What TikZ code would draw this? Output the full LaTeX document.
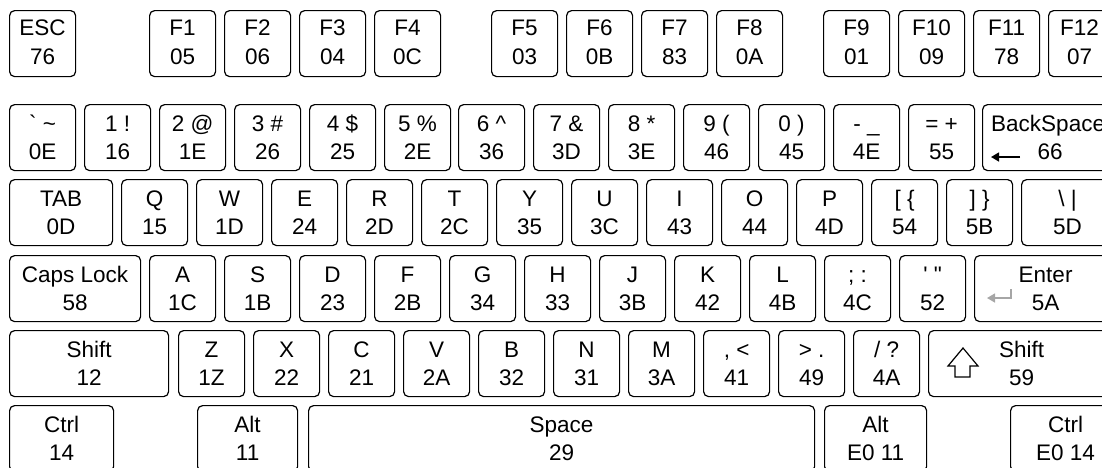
\documentclass[tikz,border=0pt]{standalone}
\usepackage{fontspec}
\setmainfont{Liberation Sans}
\usepackage{tikz}
\usetikzlibrary{calc}
\usetikzlibrary{positioning}
\usetikzlibrary{arrows.meta}
\tikzset{keybox/.style={draw,line width=1.2pt,rounded corners=5pt,inner sep=0pt,
    minimum height=66pt,anchor=north west},
    keytxt/.style={anchor=base,inner sep=0pt,font=\fontsize{22.5}{27}\selectfont},
    keyarrow/.style={line width=1.5pt,-{Triangle[length=8pt,width=9pt]}}}
\def\lineA{27}
\def\lineB{55.5}
\newcommand{\kbkey}[6]{%
  \node[keybox,minimum width=#4pt] (#1) at (#2,#3) {};
  \node[keytxt] (#1-a) at ($(#1.north)+(0,\lineA)$) {#5};
  \node[keytxt] (#1-b) at ($(#1.north)+(0,\lineB)$) {#6};}

\begin{document}
\begin{tikzpicture}[x=1pt,y=1pt,yscale=-1,xscale=1]
\useasboundingbox (0,0) rectangle (1102,467);
\clip (0,0) rectangle (1102,467);

%Row: function keys
\def\lineA{25}\def\lineB{54.5}
\kbkey{esc}{9}{10}{66}{ESC}{76}
\kbkey{f1}{149}{10}{66}{F1}{05}
\kbkey{f2}{224}{10}{66}{F2}{06}
\kbkey{f3}{299}{10}{66}{F3}{04}
\kbkey{f4}{374}{10}{66}{F4}{0C}
\kbkey{f5}{491}{10}{66}{F5}{03}
\kbkey{f6}{566}{10}{66}{F6}{0B}
\kbkey{f7}{641}{10}{66}{F7}{83}
\kbkey{f8}{716}{10}{66}{F8}{0A}
\kbkey{f9}{823}{10}{66}{F9}{01}
\kbkey{f10}{898}{10}{66}{F10}{09}
\kbkey{f11}{973}{10}{66}{F11}{78}
\kbkey{f12}{1048}{10}{62}{F12}{07}

%Row: digits
\def\lineA{27}\def\lineB{55.5}
\kbkey{grave}{9}{104}{66}{\textasciigrave\ \textasciitilde}{0E}
\kbkey{n1}{84}{104}{66}{1 !}{16}
\kbkey{n2}{159}{104}{66}{2 @}{1E}
\kbkey{n3}{234}{104}{66}{3 \#}{26}
\kbkey{n4}{309}{104}{66}{4 \$}{25}
\kbkey{n5}{384}{104}{66}{5 \%}{2E}
\kbkey{n6}{458}{104}{66}{6 \textasciicircum}{36}
\kbkey{n7}{533}{104}{66}{7 \&}{3D}
\kbkey{n8}{608}{104}{66}{8 *}{3E}
\kbkey{n9}{683}{104}{66}{9 (}{46}
\kbkey{n0}{758}{104}{66}{0 )}{45}
\kbkey{minus}{833}{104}{66}{- \_}{4E}
\kbkey{equal}{908}{104}{66}{= +}{55}
%Shape: BackSpace
\node[keybox,minimum width=140pt] (bksp) at (982,104) {};
\node[keytxt,anchor=base west] (bksp-a) at ($(bksp.north west)+(9,\lineA)$) {BackSpace};
\node[keytxt] (bksp-b) at ($(bksp.north west)+(68,\lineB)$) {66};
\coordinate (bksp-r) at ($(bksp.north west)+(38,53)$);
\coordinate (bksp-l) at ($(bksp.north west)+(9,53)$);
\draw[keyarrow] (bksp-r) -- (bksp-l);

%Row: QWERTY
\kbkey{tab}{9}{179}{103}{TAB}{0D}
\kbkey{q}{121}{179}{66}{Q}{15}
\kbkey{w}{196}{179}{66}{W}{1D}
\kbkey{e}{271}{179}{66}{E}{24}
\kbkey{r}{346}{179}{66}{R}{2D}
\kbkey{t}{421}{179}{66}{T}{2C}
\kbkey{y}{496}{179}{66}{Y}{35}
\kbkey{u}{571}{179}{66}{U}{3C}
\kbkey{i}{646}{179}{66}{I}{43}
\kbkey{o}{721}{179}{66}{O}{44}
\kbkey{p}{796}{179}{66}{P}{4D}
\kbkey{lbrack}{871}{179}{66}{[ \{}{54}
\kbkey{rbrack}{946}{179}{66}{] \}}{5B}
\kbkey{bslash}{1021}{179}{92}{\textbackslash\ |}{5D}

%Row: home
\kbkey{caps}{9}{255}{131}{Caps Lock}{58}
\kbkey{a}{149}{255}{66}{A}{1C}
\kbkey{s}{224}{255}{66}{S}{1B}
\kbkey{d}{299}{255}{66}{D}{23}
\kbkey{f}{374}{255}{66}{F}{2B}
\kbkey{g}{449}{255}{66}{G}{34}
\kbkey{h}{524}{255}{66}{H}{33}
\kbkey{j}{599}{255}{66}{J}{3B}
\kbkey{k}{674}{255}{66}{K}{42}
\kbkey{l}{749}{255}{66}{L}{4B}
\kbkey{semi}{824}{255}{66}{; :}{4C}
\kbkey{quote}{899}{255}{66}{\textquotesingle\ \textquotedbl}{52}
\kbkey{enter}{974}{255}{142}{Enter}{5A}
%Return sign
\coordinate (enter-t) at ($(enter.north west)+(37,34)$);
\coordinate (enter-c) at ($(enter.north west)+(37,43)$);
\coordinate (enter-l) at ($(enter.north west)+(13,43)$);
\draw[keyarrow,color=black!35,line width=1.4pt] (enter-t) -- (enter-c) -- (enter-l);

%Row: shift
\kbkey{lshift}{9}{330}{159}{Shift}{12}
\kbkey{z}{178}{330}{66}{Z}{1Z}
\kbkey{x}{253}{330}{66}{X}{22}
\kbkey{c}{328}{330}{66}{C}{21}
\kbkey{v}{403}{330}{66}{V}{2A}
\kbkey{b}{478}{330}{66}{B}{32}
\kbkey{n}{553}{330}{66}{N}{31}
\kbkey{m}{628}{330}{66}{M}{3A}
\kbkey{comma}{703}{330}{66}{, <}{41}
\kbkey{period}{778}{330}{66}{> .}{49}
\kbkey{slash}{853}{330}{66}{/ ?}{4A}
\kbkey{rshift}{928}{330}{186}{Shift}{59}
%Shape: up arrow
\draw[line width=1.2pt,line join=miter] ($(rshift.north west)+(35,18)$) -- ++(15,18) -- ++(-8,0) -- ++(0,11)
    -- ++(-15,0) -- ++(0,-11) -- ++(-7,0) -- cycle;

%Row: bottom
\kbkey{lctrl}{9}{405}{104}{Ctrl}{14}
\kbkey{lalt}{197}{405}{100}{Alt}{11}
\kbkey{space}{308}{405}{506}{Space}{29}
\kbkey{ralt}{824}{405}{102}{Alt}{E0 11}
\kbkey{rctrl}{1010}{405}{110}{Ctrl}{E0 14}

\end{tikzpicture}
\end{document}
